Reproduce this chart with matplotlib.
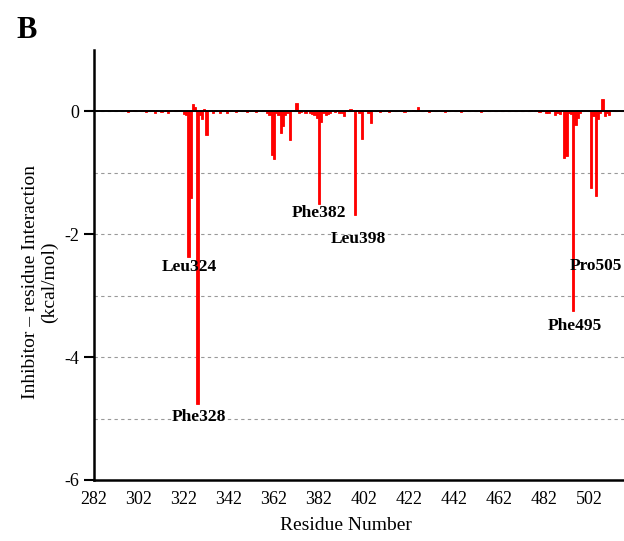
import matplotlib
matplotlib.use("Agg")
import matplotlib.pyplot as plt

plt.rcParams["font.family"] = ["Liberation Serif", "DejaVu Serif"]
plt.rcParams["axes.unicode_minus"] = False

# residue numbers 297..516
residues = list(range(297, 517))

# per-residue interaction energy (kcal/mol)
energies = [
    -0.01, 0.01, 0.00, 0.02, 0.01, 0.00, 0.03, 0.02, -0.01, 0.01,    # 297-306
    0.03, 0.02, -0.02, 0.02, 0.01, -0.01, 0.01, 0.02, -0.02, 0.01,   # 307-316
    0.01, 0.02, 0.03, 0.02, 0.01, -0.04, -0.05, -2.37, -1.41, 0.12,  # 317-326
    0.08, -4.77, -0.05, -0.13, 0.04, -0.38, 0.01, 0.02, -0.03, 0.02, # 327-336
    0.01, -0.02, 0.03, 0.02, -0.02, 0.01, 0.02, 0.01, -0.01, 0.02,   # 337-346
    0.01, 0.00, 0.01, -0.01, 0.00, 0.01, 0.00, -0.01, 0.01, 0.00,    # 347-356
    0.03, 0.01, -0.02, -0.05, -0.71, -0.77, -0.03, -0.06, -0.35, -0.24,  # 357-366
    -0.05, -0.02, -0.47, 0.02, 0.03, 0.13, -0.02, -0.01, 0.01, -0.02,    # 367-376
    0.01, -0.03, -0.04, -0.06, -0.10, -1.50, -0.18, -0.03, -0.05, -0.04, # 377-386
    -0.02, 0.01, -0.01, 0.02, -0.02, -0.03, -0.08, 0.02, 0.03, 0.04,     # 387-396
    0.02, -1.69, 0.02, -0.02, -0.45, 0.01, 0.01, -0.03, -0.19, 0.01,     # 397-406
    0.00, 0.01, -0.01, 0.01, 0.00, 0.01, -0.01, 0.00, 0.01, 0.00,    # 407-416
    0.00, 0.01, 0.00, -0.01, 0.01, 0.00, 0.01, 0.02, 0.01, 0.07,     # 417-426
    0.01, 0.00, 0.01, 0.00, -0.01, 0.00, 0.01, 0.00, 0.00, 0.01,     # 427-436
    0.00, -0.01, 0.00, 0.01, 0.00, 0.00, 0.01, 0.00, -0.01, 0.00,    # 437-446
    0.01, 0.00, 0.00, 0.00, 0.01, 0.00, 0.00, -0.01, 0.00, 0.01,     # 447-456
    0.00, 0.00, 0.01, 0.00, 0.00, 0.01, 0.00, 0.00, 0.01, 0.00,      # 457-466
    0.00, 0.01, 0.00, 0.00, 0.01, 0.00, 0.01, 0.00, 0.01, 0.02,      # 467-476
    0.01, 0.02, 0.01, -0.01, 0.02, 0.01, -0.03, -0.02, 0.01, 0.02,   # 477-486
    -0.05, -0.03, -0.04, 0.02, -0.76, -0.72, -0.03, -0.04, -3.25, -0.22, # 487-496
    -0.10, -0.03, 0.02, 0.03, 0.03, 0.02, -1.25, -0.08, -1.37, -0.12,    # 497-506
    -0.03, 0.20, -0.08, -0.02, -0.06, 0.01, 0.02, 0.00, 0.01, 0.00,      # 507-516
]

# labelled hot-spot residues and where their names sit
hot_labels = ["Leu324", "Phe328", "Phe382", "Leu398", "Phe495", "Pro505"]
hot_x = [324.5, 328.6, 381.8, 399.6, 495.6, 505.0]
hot_y = [-2.54, -4.98, -1.66, -2.07, -3.49, -2.51]

xticks = list(range(282, 503, 20))
yticks = [0, -2, -4, -6]

fig = plt.figure(figsize=(6.24, 5.41), dpi=100)
ax = fig.add_axes([94 / 624, 1 - 480 / 541, 1 - 94 / 624, 430 / 541])

ax.bar(residues, energies, width=1.0, color="red", edgecolor="red", linewidth=0.6, zorder=2)
ax.axhline(0, color="black", lw=1.4, zorder=3)

ax.set_xlim(282, 517.5)
ax.set_ylim(-6, 1)
ax.set_xticks(xticks)
ax.set_yticks(yticks)
ax.set_yticks([-1, -3, -5], minor=True)
ax.grid(axis="y", which="both", color="#999999", linestyle=(0, (3, 3)), lw=0.8, zorder=1)
ax.tick_params(axis="x", length=0, pad=8, labelsize=13)
ax.tick_params(axis="y", which="major", length=7, width=1.5, labelsize=13, direction="out")
ax.tick_params(axis="y", which="minor", length=0)

for side in ["top", "right"]:
    ax.spines[side].set_visible(False)
for side in ["left", "bottom"]:
    ax.spines[side].set_linewidth(1.8)

for name, lx, ly in zip(hot_labels, hot_x, hot_y):
    ax.text(lx, ly, name, ha="center", va="center", fontsize=12.5, fontweight="bold")

ax.set_xlabel("Residue Number", fontsize=14)
ax.xaxis.set_label_coords(0.475, -0.085)
ax.set_ylabel("Inhibitor \u2013 residue Interaction\n(kcal/mol)", fontsize=14, linespacing=1.1)
ax.yaxis.set_label_coords(-0.068, 0.46)

fig.text(27 / 624, 1 - 31 / 541, "B", fontsize=22, fontweight="bold", ha="center", va="center")

fig.savefig("out.png", dpi=100)
